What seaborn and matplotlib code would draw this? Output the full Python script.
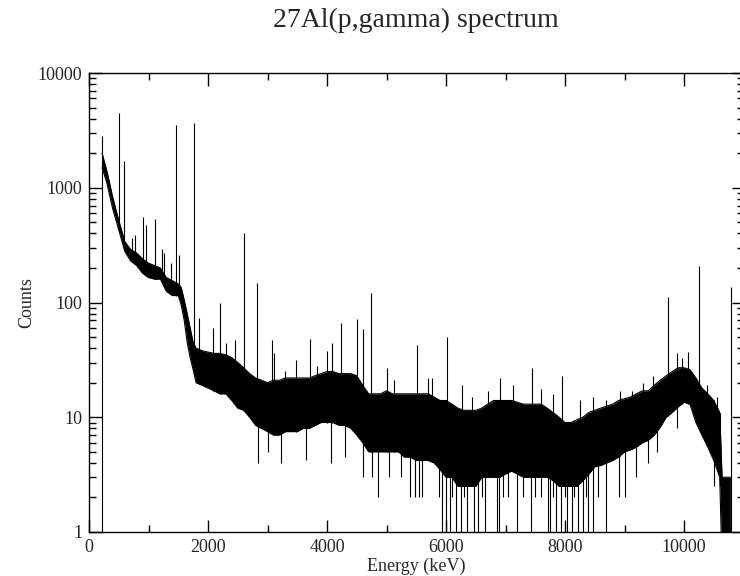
import numpy as np
import pandas as pd
import matplotlib
matplotlib.use("Agg")
import matplotlib.pyplot as plt
import seaborn as sns
from matplotlib.ticker import MultipleLocator, LogLocator, FuncFormatter, NullFormatter

sns.set_style("ticks")
plt.rcParams['font.family'] = ['Liberation Serif', 'DejaVu Serif']

# ---------------- data ----------------
# continuum band: upper / lower edge of the dense channel noise (keV, counts)
env_e = [220, 300, 400, 500, 600, 700, 800, 900, 1000, 1100, 1200, 1300, 1400,
         1500, 1550, 1600, 1650, 1700, 1750, 1800, 1900, 2000, 2100, 2200, 2300,
         2400, 2500, 2600, 2700, 2800, 2900, 3000, 3100, 3200, 3300, 3400, 3500,
         3600, 3700, 3800, 3900, 4000, 4100, 4200, 4300, 4400, 4500, 4600, 4700,
         4800, 4900, 5000, 5100, 5200, 5300, 5400, 5500, 5600, 5700, 5800, 5900,
         6000, 6100, 6200, 6300, 6400, 6500, 6600, 6700, 6800, 6900, 7000, 7100,
         7200, 7300, 7400, 7500, 7600, 7700, 7800, 7900, 8000, 8100, 8200, 8300,
         8400, 8500, 8600, 8700, 8800, 8900, 9000, 9100, 9200, 9300, 9400, 9500,
         9600, 9700, 9800, 9900, 10000, 10100, 10200, 10300, 10400, 10500, 10600,
         10640, 10780]
env_hi = [2000, 1400, 820, 520, 340, 290, 270, 240, 220, 210, 200, 165, 155,
          145, 135, 105, 80, 60, 45, 40, 38, 37, 36, 36, 35,
          33, 30, 27, 24, 22, 21, 20, 21, 21, 22, 22, 22,
          22, 22, 23, 24, 25, 25, 24, 24, 24, 23, 19, 16,
          16, 16, 17, 16, 16, 16, 16, 16, 16, 16, 15, 14,
          14, 13, 12, 11.5, 11.5, 11.5, 12, 13, 14, 14, 14, 14,
          13.5, 13, 13, 13, 13, 12, 11, 10, 9, 9, 9.5, 10,
          11, 11.5, 12, 12.5, 13, 14, 14.5, 15, 16, 17, 17, 19,
          21, 23, 25, 27, 27, 26, 22, 18, 16, 14, 11,
          3, 3]
env_lo = [1500, 1100, 650, 430, 280, 230, 210, 180, 165, 160, 160, 125, 115,
          115, 95, 70, 45, 33, 26, 20, 19, 18, 17, 16, 16,
          14, 12, 11.5, 10, 8.5, 8, 7.5, 7, 7, 7.5, 7.5, 7.5,
          8, 8, 8.5, 9, 9, 9, 8.5, 8.5, 8, 7, 6, 5,
          5, 5, 5, 5, 5, 4.5, 4.5, 4.2, 4.2, 4.2, 4, 3.5,
          3, 3, 2.5, 2.5, 2.5, 2.5, 3, 3, 3, 3, 3.2, 3.4,
          3.2, 3, 3, 3, 3, 3, 2.8, 2.5, 2.5, 2.5, 2.5, 2.8,
          3.2, 3.7, 3.8, 4, 4.2, 4.5, 5, 5.2, 5.5, 6, 6.3, 7,
          8.2, 10, 11, 12.3, 13.5, 13, 9, 7, 5.5, 4.2, 3,
          0.5, 0.5]

# gamma lines and single-channel upward spikes (keV, counts)
peak_e = [505, 590, 720, 775, 900, 955, 1110, 1225, 1260, 1375, 1460, 1510,
          1765, 1850, 2090, 2200, 2300, 2450, 2610, 2830, 3070, 3115, 3290,
          3480, 3710, 3830, 4000, 4090, 4235, 4500, 4610, 4740, 5000, 5120,
          5510, 5700, 5770, 6020, 6270, 6440, 6710, 6910, 7130, 7440, 7590,
          7800, 7950, 8250, 8470, 8690, 8920, 9130, 9310, 9480, 9630, 9730,
          9880, 9970, 10070, 10250, 10390, 10550, 10790]
peak_n = [4500, 1700, 365, 390, 560, 470, 535, 290, 270, 220, 3500, 260,
          3700, 73, 60, 100, 44, 47, 405, 148, 47, 36, 25.5,
          31.5, 48, 28, 38, 44, 66, 72, 59, 120, 27, 21,
          43, 22, 22, 50, 19, 15, 17, 22, 19, 27, 17.5,
          16, 23, 14, 15, 14, 17, 17, 20, 23, 22, 111,
          36, 33, 37, 210, 19, 15, 136]

# single-channel downward spikes (keV, counts; 0.5 = empty channel)
dip_e = [2840, 3000, 3230, 3640, 4060, 4300, 4600, 4750, 4860, 5050, 5250,
         5400, 5480, 5540, 5600, 5890, 5930, 6000, 6070, 6100, 6170, 6250,
         6300, 6350, 6470, 6540, 6600, 6660, 6860, 6890, 6950, 7050, 7190,
         7300, 7430, 7500, 7600, 7710, 7750, 7800, 7850, 7930, 8000, 8030,
         8120, 8150, 8220, 8300, 8350, 8390, 8470, 8550, 8690, 8900, 9000,
         9200, 9400, 9550, 9880, 10500, 10600]
dip_n = [4, 5, 4, 4.2, 4, 4.5, 3, 3, 2, 3, 3,
         2, 2, 2, 2, 2, 0.5, 0.5, 0.5, 2, 0.5, 0.5,
         2, 0.5, 0.5, 0.5, 2, 0.5, 0.5, 0.5, 2, 2, 0.5,
         2, 0.5, 2, 2, 0.5, 0.5, 2, 0.5, 0.5, 2, 0.5,
         0.5, 2, 0.5, 0.5, 2, 0.5, 0.5, 2, 0.5, 2, 2,
         3, 4, 5, 8, 2.5, 2.5]

# first channel above threshold
start_e, start_n = 213, 2800

# ---------------- figure ----------------
fig = plt.figure(figsize=(7.4, 5.76), dpi=100)
ax = fig.add_axes([89 / 740, 44 / 576, 654.5 / 740, 459 / 576])

band = pd.DataFrame({'E': env_e, 'hi': env_hi, 'lo': env_lo})
ax.fill_between(band['E'], band['lo'], band['hi'], color='k', lw=0)
sns.lineplot(data=band, x='E', y='hi', color='k', lw=0.8, ax=ax)
sns.lineplot(data=band, x='E', y='lo', color='k', lw=0.8, ax=ax)

pk_base = np.interp(peak_e, env_e, env_lo)
ax.vlines(peak_e, pk_base, peak_n, color='k', lw=0.8)
dp_base = np.interp(dip_e, env_e, env_hi)
ax.vlines(dip_e, dp_base, dip_n, color='k', lw=0.8)
ax.vlines(start_e, 0.5, start_n, color='k', lw=0.8)

ax.set_yscale('log')
ax.set_xlim(0, 11000)
ax.set_ylim(1, 10000)
ax.xaxis.set_major_locator(MultipleLocator(2000))
ax.xaxis.set_minor_locator(MultipleLocator(1000))
ax.yaxis.set_major_locator(LogLocator(base=10))
ax.yaxis.set_minor_locator(LogLocator(base=10, subs=range(2, 10)))
ax.yaxis.set_major_formatter(FuncFormatter(lambda v, p: f'{v:g}'))
ax.yaxis.set_minor_formatter(NullFormatter())

ax.tick_params(which='both', direction='in', top=True, right=True,
               labelsize=13, width=1, color='k')
ax.tick_params(which='major', length=9, pad=5)
ax.tick_params(which='minor', length=5)
for s in ax.spines.values():
    s.set_linewidth(1)
    s.set_color('k')

ax.set_xlabel('Energy (keV)', fontsize=13)
ax.set_ylabel('Counts', fontsize=13)
ax.xaxis.set_label_coords(0.5, -0.057)
ax.yaxis.set_label_coords(-0.082, 0.5)
ax.set_title('27Al(p,gamma) spectrum', fontsize=20, pad=33)

fig.savefig('out.png', dpi=100)
